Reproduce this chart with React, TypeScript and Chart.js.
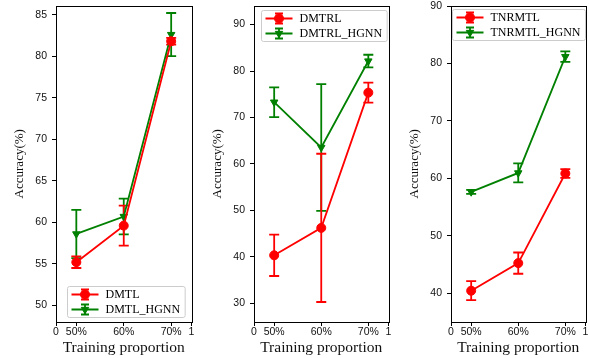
import React, { useEffect, useRef } from 'react';
import { Chart, registerables } from 'chart.js';

Chart.register(...registerables);

// ---------- data ----------
const categories = ['50%', '60%', '70%'];
const xPositions = [0.15, 0.5, 0.85];
const xTickValues = [0, 0.15, 0.5, 0.85, 1];
const xTickLabels = ['0', '50%', '60%', '70%', '1'];

const dmtlMean = [55.2, 59.6, 81.8];
const dmtlErr = [0.7, 2.4, 0.4];
const dmtlHgnnMean = [58.6, 60.7, 82.6];
const dmtlHgnnErr = [2.9, 2.15, 2.6];

const dmtrlMean = [40.35, 46.25, 75.35];
const dmtrlErr = [4.45, 15.95, 2.15];
const dmtrlHgnnMean = [73.3, 63.55, 82.15];
const dmtrlHgnnErr = [3.2, 13.65, 1.35];

const tnrmtlMean = [40.45, 45.25, 60.85];
const tnrmtlErr = [1.65, 1.85, 0.75];
const tnrmtlHgnnMean = [57.65, 60.95, 81.2];
const tnrmtlHgnnErr = [0.35, 1.65, 0.9];

const panel1YTicks = [50, 55, 60, 65, 70, 75, 80, 85];
const panel2YTicks = [30, 40, 50, 60, 70, 80, 90];
const panel3YTicks = [40, 50, 60, 70, 80, 90];

const xTitle = 'Training proportion';
const yTitle = 'Accuracy(%)';

// ---------- styles ----------
const RED = '#ff0000';
const GREEN = '#008000';
const SANS = "'Liberation Sans', Arial, sans-serif";
const SERIF = "'Liberation Serif', 'Times New Roman', serif";
const CANVAS_H = 358;
const LINE_W = 1.8;

type Marker = 'circle' | 'triangleDown';
type Series = { label: string; mean: number[]; err: number[]; color: string; marker: Marker };
type PanelSpec = {
  left: number;
  width: number;
  yAxisWidth: number;
  yMin: number;
  yMax: number;
  yTicks: number[];
  series: Series[];
  legend: { corner: 'lowerRight' | 'upperLeft'; dx: number; dy: number };
};

const panels: PanelSpec[] = [
  {
    left: 0, width: 197, yAxisWidth: 56, yMin: 48.0, yMax: 86.1, yTicks: panel1YTicks,
    series: [
      { label: 'DMTL', mean: dmtlMean, err: dmtlErr, color: RED, marker: 'circle' },
      { label: 'DMTL_HGNN', mean: dmtlHgnnMean, err: dmtlHgnnErr, color: GREEN, marker: 'triangleDown' },
    ],
    legend: { corner: 'lowerRight', dx: 7, dy: 5 },
  },
  {
    left: 196, width: 198, yAxisWidth: 58, yMin: 26.0, yMax: 94.1, yTicks: panel2YTicks,
    series: [
      { label: 'DMTRL', mean: dmtrlMean, err: dmtrlErr, color: RED, marker: 'circle' },
      { label: 'DMTRL_HGNN', mean: dmtrlHgnnMean, err: dmtrlHgnnErr, color: GREEN, marker: 'triangleDown' },
    ],
    legend: { corner: 'upperLeft', dx: 6.5, dy: 4 },
  },
  {
    left: 392, width: 199, yAxisWidth: 59, yMin: 35.0, yMax: 90.1, yTicks: panel3YTicks,
    series: [
      { label: 'TNRMTL', mean: tnrmtlMean, err: tnrmtlErr, color: RED, marker: 'circle' },
      { label: 'TNRMTL_HGNN', mean: tnrmtlHgnnMean, err: tnrmtlHgnnErr, color: GREEN, marker: 'triangleDown' },
    ],
    legend: { corner: 'upperLeft', dx: 1, dy: 3 },
  },
];

function drawMarker(ctx: CanvasRenderingContext2D, m: Marker, x: number, y: number, color: string) {
  ctx.save();
  ctx.fillStyle = color;
  ctx.strokeStyle = color;
  ctx.lineWidth = 1;
  ctx.beginPath();
  if (m === 'circle') {
    ctx.arc(x, y, 4.5, 0, Math.PI * 2);
  } else {
    const r = 4.3;
    ctx.moveTo(x, y + r);
    ctx.lineTo(x - r * 0.866, y - r * 0.5);
    ctx.lineTo(x + r * 0.866, y - r * 0.5);
    ctx.closePath();
  }
  ctx.fill();
  ctx.stroke();
  ctx.restore();
}

function makePlugins(spec: PanelSpec) {
  const errorBars = {
    id: 'errorBars',
    beforeDatasetsDraw(chart: any) {
      const { ctx } = chart;
      const xs = chart.scales.x;
      const ys = chart.scales.y;
      for (let di = spec.series.length - 1; di >= 0; di--) {
        const s = spec.series[di];
        ctx.save();
        ctx.strokeStyle = s.color;
        ctx.lineWidth = LINE_W;
        s.mean.forEach((m, i) => {
          const px = xs.getPixelForValue(xPositions[i]);
          const top = ys.getPixelForValue(m + s.err[i]);
          const bot = ys.getPixelForValue(m - s.err[i]);
          ctx.beginPath();
          ctx.moveTo(px, top);
          ctx.lineTo(px, bot);
          ctx.moveTo(px - 5, top);
          ctx.lineTo(px + 5, top);
          ctx.moveTo(px - 5, bot);
          ctx.lineTo(px + 5, bot);
          ctx.stroke();
        });
        ctx.restore();
      }
    },
  };

  const frame = {
    id: 'frame',
    afterDraw(chart: any) {
      const { ctx, chartArea: a } = chart;
      ctx.save();
      ctx.strokeStyle = '#000';
      ctx.lineWidth = 1;
      const l = Math.round(a.left) + 0.5;
      const t = Math.round(a.top) + 0.5;
      const r = Math.round(a.right) + 0.5;
      const b = Math.round(a.bottom) + 0.5;
      ctx.strokeRect(l, t, r - l, b - t);
      ctx.restore();
    },
  };

  const legend = {
    id: 'customLegend',
    afterDraw(chart: any) {
      const { ctx, chartArea: a } = chart;
      ctx.save();
      ctx.font = `12px ${SERIF}`;
      const textW = Math.max(...spec.series.map((s) => ctx.measureText(s.label).width));
      const w = 4 + 27 + 7 + textW + 5;
      const h = 31;
      let bx: number;
      let by: number;
      if (spec.legend.corner === 'lowerRight') {
        bx = a.right - spec.legend.dx - w;
        by = a.bottom - spec.legend.dy - h;
      } else {
        bx = a.left + spec.legend.dx;
        by = a.top + spec.legend.dy;
      }
      bx = Math.round(bx) + 0.5;
      by = Math.round(by) + 0.5;
      ctx.beginPath();
      const rr = 2;
      ctx.moveTo(bx + rr, by);
      ctx.lineTo(bx + w - rr, by);
      ctx.quadraticCurveTo(bx + w, by, bx + w, by + rr);
      ctx.lineTo(bx + w, by + h - rr);
      ctx.quadraticCurveTo(bx + w, by + h, bx + w - rr, by + h);
      ctx.lineTo(bx + rr, by + h);
      ctx.quadraticCurveTo(bx, by + h, bx, by + h - rr);
      ctx.lineTo(bx, by + rr);
      ctx.quadraticCurveTo(bx, by, bx + rr, by);
      ctx.closePath();
      ctx.fillStyle = 'rgba(255,255,255,0.8)';
      ctx.fill();
      ctx.strokeStyle = '#cccccc';
      ctx.lineWidth = 1;
      ctx.stroke();

      spec.series.forEach((s, i) => {
        const ry = by + 8 + i * 15;
        const x0 = bx + 4;
        const x1 = bx + 31;
        const cx = (x0 + x1) / 2;
        ctx.strokeStyle = s.color;
        ctx.lineWidth = LINE_W;
        ctx.beginPath();
        ctx.moveTo(x0, ry);
        ctx.lineTo(x1, ry);
        ctx.moveTo(cx, ry - 5);
        ctx.lineTo(cx, ry + 5);
        ctx.moveTo(cx - 4, ry - 5);
        ctx.lineTo(cx + 4, ry - 5);
        ctx.moveTo(cx - 4, ry + 5);
        ctx.lineTo(cx + 4, ry + 5);
        ctx.stroke();
        drawMarker(ctx, s.marker, cx, ry, s.color);
        ctx.fillStyle = '#000';
        ctx.textBaseline = 'middle';
        ctx.textAlign = 'left';
        ctx.font = `12px ${SERIF}`;
        ctx.fillText(s.label, bx + 38, ry + 0.5);
      });
      ctx.restore();
    },
  };

  return [errorBars, frame, legend];
}

function Panel({ spec }: { spec: PanelSpec }) {
  const ref = useRef<HTMLCanvasElement | null>(null);

  useEffect(() => {
    if (!ref.current) return;
    const datasets = spec.series.map((s) => ({
      label: s.label,
      data: s.mean.map((m, i) => ({ x: xPositions[i], y: m })),
      borderColor: s.color,
      backgroundColor: s.color,
      borderWidth: LINE_W,
      pointStyle: s.marker === 'circle' ? 'circle' : 'triangle',
      rotation: s.marker === 'circle' ? 0 : 180,
      pointRadius: s.marker === 'circle' ? 4.5 : 4.3,
      pointBorderWidth: 1,
      pointBackgroundColor: s.color,
      pointBorderColor: s.color,
      tension: 0,
      fill: false,
      clip: false as any,
    }));

    const chart = new Chart(ref.current, {
      type: 'line',
      data: { labels: categories, datasets },
      options: {
        animation: false,
        responsive: false,
        devicePixelRatio: 1,
        layout: { padding: { top: 5, left: 0, right: 4, bottom: 0 } },
        plugins: { legend: { display: false }, tooltip: { enabled: false } },
        scales: {
          x: {
            type: 'linear',
            min: 0,
            max: 1,
            afterBuildTicks: (scale: any) => {
              scale.ticks = xTickValues.map((v) => ({ value: v }));
            },
            afterFit: (scale: any) => {
              scale.height = CANVAS_H - 322;
              scale.paddingLeft = 0;
              scale.paddingRight = 0;
            },
            ticks: {
              autoSkip: false,
              maxRotation: 0,
              padding: 0,
              color: '#111',
              font: { family: SANS, size: 10.5 },
              callback: (v: any) => {
                const idx = xTickValues.findIndex((t) => Math.abs(t - Number(v)) < 1e-6);
                return idx >= 0 ? xTickLabels[idx] : '';
              },
            },
            grid: { display: true, drawOnChartArea: false, drawTicks: true, tickLength: 4, color: '#000', lineWidth: 1 },
            border: { display: false },
            title: {
              display: true,
              text: xTitle,
              color: '#111',
              font: { family: SERIF, size: 15.5, lineHeight: 1 },
              padding: { top: 0, bottom: 2.3 },
            },
          },
          y: {
            type: 'linear',
            min: spec.yMin,
            max: spec.yMax,
            afterBuildTicks: (scale: any) => {
              scale.ticks = spec.yTicks.map((v) => ({ value: v }));
            },
            afterFit: (scale: any) => {
              scale.width = spec.yAxisWidth;
              scale.paddingTop = 0;
              scale.paddingBottom = 0;
            },
            ticks: {
              padding: 5,
              color: '#111',
              font: { family: SANS, size: 10.5 },
              callback: (v: any) => String(v),
            },
            grid: { display: true, drawOnChartArea: false, drawTicks: true, tickLength: 4, color: '#000', lineWidth: 1 },
            border: { display: false },
            title: {
              display: true,
              text: yTitle,
              color: '#111',
              font: { family: SERIF, size: 13, lineHeight: 1 },
              padding: { top: spec.yAxisWidth - 36 - 6.5, bottom: 0 },
            },
          },
        },
      },
      plugins: makePlugins(spec) as any,
    });
    return () => chart.destroy();
  }, [spec]);

  return (
    <canvas
      ref={ref}
      width={spec.width}
      height={CANVAS_H}
      style={{ position: 'absolute', left: spec.left, top: 0, width: spec.width, height: CANVAS_H, display: 'block' }}
    />
  );
}

export default function App() {
  return (
    <div
      style={{
        position: 'absolute',
        left: 0,
        top: 0,
        width: 589,
        height: CANVAS_H,
        overflow: 'hidden',
        background: '#fff',
      }}
    >
      {panels.map((p, i) => (
        <Panel key={i} spec={p} />
      ))}
    </div>
  );
}
